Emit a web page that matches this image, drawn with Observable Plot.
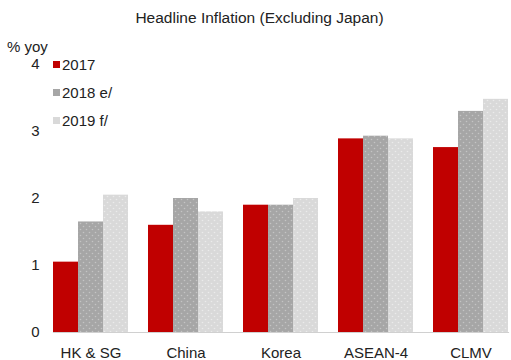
<!DOCTYPE html>
<html>
<head>
<meta charset="utf-8">
<script src="https://cdn.jsdelivr.net/npm/d3@7"></script>
<script src="https://cdn.jsdelivr.net/npm/@observablehq/plot@0.6"></script>
<style>
  html, body { margin: 0; padding: 0; background: #fff; }
  body { font-family: "Liberation Sans", Arial, sans-serif; color: #222; }
  #wrap { position: relative; width: 511px; height: 360px; overflow: hidden; }
  #title { position: absolute; left: 0; top: 9px; width: 519px; text-align: center; font-size: 15.5px; white-space: nowrap; }
  #unit { position: absolute; left: 7px; top: 38px; font-size: 15px; }
  .leg { position: absolute; left: 53px; font-size: 15px; display: flex; align-items: center; white-space: nowrap; }
  .leg i { display: inline-block; width: 7px; height: 7px; margin-right: 2px; }
  #chart { position: absolute; left: 0; top: 30px; }
</style>
</head>
<body>
<div id="wrap">
  <div id="title">Headline Inflation (Excluding Japan)</div>
  <div id="chart"></div>
  <div id="unit">% yoy</div>
  <div id="legend"></div>
</div>
<script>
const titleText = "Headline Inflation (Excluding Japan)";
const unitLabel = "% yoy";
const categories = ["HK & SG", "China", "Korea", "ASEAN-4", "CLMV"];
const seriesNames = ["2017", "2018 e/", "2019 f/"];
const values2017 = [1.05, 1.60, 1.90, 2.89, 2.76];
const values2018 = [1.65, 2.00, 1.90, 2.93, 3.30];
const values2019 = [2.05, 1.80, 2.00, 2.89, 3.48];
const yTicks = [0, 1, 2, 3, 4];
const seriesFills = ["#c00000", "url(#pat2018)", "url(#pat2019)"];
const legendColors = ["#c00000", "#a6a6a6", "#d9d9d9"];

const allValues = [values2017, values2018, values2019];
const data = [];
categories.forEach((c, i) => {
  seriesNames.forEach((s, j) => {
    data.push({category: c, series: s, value: allValues[j][i]});
  });
});

const svg = Plot.plot({
  width: 511,
  height: 330,
  marginLeft: 40,
  marginRight: 0,
  marginTop: 34,
  marginBottom: 28,
  style: {fontFamily: "'Liberation Sans', Arial, sans-serif", fontSize: "15px", color: "#222", background: "transparent"},
  fx: {domain: categories, paddingInner: 0.2126, paddingOuter: 0.0788, align: 0.78, axis: "bottom", tickSize: 0, tickPadding: 15, label: null},
  x: {domain: seriesNames, padding: 0, axis: null},
  y: {domain: [0, 4], ticks: yTicks, tickSize: 0, tickPadding: 14, label: null, tickFormat: d3.format("d")},
  marks: [
    Plot.barY(data, {fx: "category", x: "series", y: "value", fill: d => seriesFills[seriesNames.indexOf(d.series)], inset: 0}),
    Plot.frame({anchor: "bottom", stroke: "#d0d0d0", strokeWidth: 1.2, facet: "super"})
  ]
});

const defs = document.createElementNS("http://www.w3.org/2000/svg", "defs");
defs.innerHTML = `
  <pattern id="pat2018" patternUnits="userSpaceOnUse" width="6" height="6">
    <rect width="6" height="6" fill="#a6a6a6"></rect>
    <circle cx="1.5" cy="1.5" r="0.8" fill="#c4c4c4"></circle>
    <circle cx="4.5" cy="4.5" r="0.8" fill="#c4c4c4"></circle>
  </pattern>
  <pattern id="pat2019" patternUnits="userSpaceOnUse" width="6" height="6">
    <rect width="6" height="6" fill="#d9d9d9"></rect>
    <circle cx="1.5" cy="1.5" r="0.8" fill="#ebebeb"></circle>
    <circle cx="4.5" cy="4.5" r="0.8" fill="#ebebeb"></circle>
  </pattern>`;
svg.insertBefore(defs, svg.firstChild);
document.getElementById("chart").appendChild(svg);

document.getElementById("title").textContent = titleText;
document.getElementById("unit").textContent = unitLabel;
const legend = document.getElementById("legend");
seriesNames.forEach((s, j) => {
  const el = document.createElement("div");
  el.className = "leg";
  el.style.top = (56 + j * 28) + "px";
  el.innerHTML = `<i style="background:${legendColors[j]}"></i><span>${s}</span>`;
  legend.appendChild(el);
});
</script>
</body>
</html>
